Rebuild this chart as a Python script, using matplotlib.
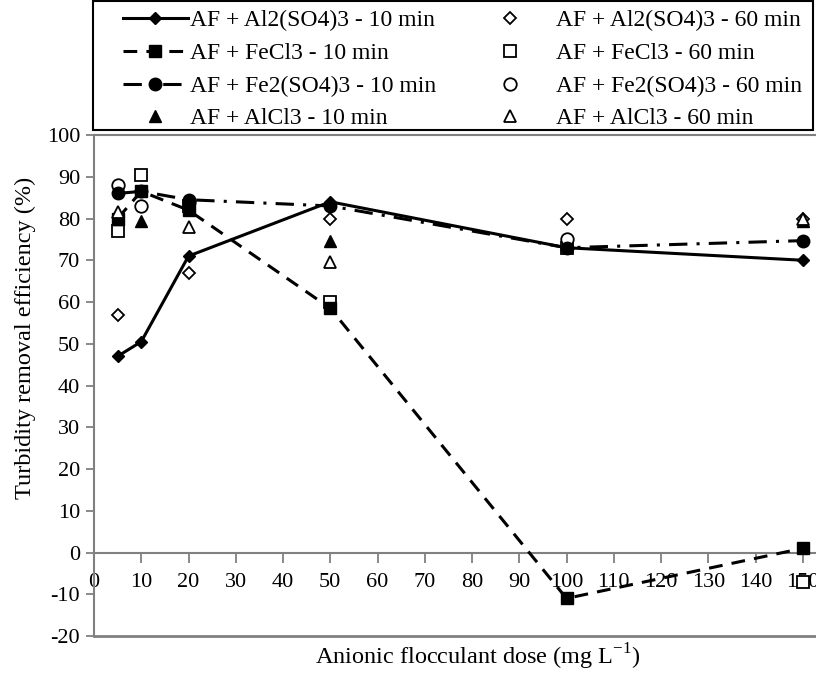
import numpy as np
import matplotlib
matplotlib.use('Agg')
import matplotlib.pyplot as plt
from matplotlib.patches import Rectangle

plt.rcParams['font.family'] = ['Liberation Serif', 'DejaVu Serif']
plt.rcParams['axes.unicode_minus'] = False
plt.rcParams['mathtext.fontset'] = 'custom'
plt.rcParams['mathtext.rm'] = 'Liberation Serif'

# doses (mg/L)
dose = [5, 10, 20, 50, 100, 150]

# 10 min series
al2so4_10 = [47, 50.5, 71, 84, 73, 70]
fecl3_10 = [80, 86.5, 82, 58.5, -11, 1]
fe2so4_10 = [86, 86.5, 84.5, 83, 73, 74.7]
alcl3_10 = [80, 79.5, np.nan, 74.5, np.nan, 79.5]

# 60 min series
al2so4_60 = [57, np.nan, 67, 80, 80, 80]
fecl3_60 = [77, 90.5, 83, 60, 73, -7]
fe2so4_60 = [88, 83, 84, np.nan, 75, np.nan]
alcl3_60 = [81.5, np.nan, 78, 69.5, np.nan, 80]

xticks = list(range(0, 151, 10))
yticks = list(range(-20, 101, 10))

fig = plt.figure(figsize=(8.16, 6.74), dpi=100)
# x axis runs a little past 150 (picture is cropped at the right)
ax = fig.add_axes([94/816, 1-636/674, 722/816, 501/674])

ms = 8
h1, = ax.plot(dose, al2so4_10, color='black', lw=2.2, marker='D', ms=6.5,
              label='AF + Al2(SO4)3 - 10 min', zorder=3)
h2, = ax.plot(dose, fecl3_10, color='black', lw=2.2, ls=(0, (4.5, 3)), marker='s', ms=ms,
              label='AF + FeCl3 - 10 min', zorder=3)
h3, = ax.plot(dose, fe2so4_10, color='black', lw=2.2, ls=(0, (6, 3, 1, 3)), marker='o', ms=ms+1,
              label='AF + Fe2(SO4)3 - 10 min', zorder=3)
h4, = ax.plot(dose, alcl3_10, color='black', lw=0, marker='^', ms=ms,
              label='AF + AlCl3 - 10 min', zorder=3)

h5, = ax.plot(dose, al2so4_60, color='black', lw=0, marker='D', ms=6.5, mfc='white',
              mew=1.3, label='AF + Al2(SO4)3 - 60 min', zorder=4)
h6, = ax.plot(dose, fecl3_60, color='black', lw=0, marker='s', ms=ms, mfc='white',
              mew=1.3, label='AF + FeCl3 - 60 min', zorder=2)
h7, = ax.plot(dose, fe2so4_60, color='black', lw=0, marker='o', ms=ms+1, mfc='white',
              mew=1.3, label='AF + Fe2(SO4)3 - 60 min', zorder=2)
h8, = ax.plot(dose, alcl3_60, color='black', lw=0, marker='^', ms=ms, mfc='white',
              mew=1.3, label='AF + AlCl3 - 60 min', zorder=4)

ax.set_xlim(0, 152.8)
ax.set_ylim(-20, 100)
ax.set_xticks(xticks)
ax.set_yticks(yticks)

gray = '#808080'
ax.spines['right'].set_visible(False)
ax.spines['top'].set_color(gray)
ax.spines['top'].set_linewidth(1.5)
ax.spines['left'].set_color(gray)
ax.spines['left'].set_linewidth(1.5)
ax.spines['bottom'].set_position(('data', 0))
ax.spines['bottom'].set_color(gray)
ax.spines['bottom'].set_linewidth(1.5)
ax.axhline(-20, color=gray, lw=2, clip_on=False, zorder=1)

ax.tick_params(axis='x', direction='out', length=7, width=1.3, color=gray,
               labelsize=16, pad=8)
ax.tick_params(axis='y', direction='out', length=6, width=1.3, color=gray,
               labelsize=16, pad=4)

fig.text(25/816, 1-338/674, 'Turbidity removal efficiency (%)', rotation=90,
         ha='center', va='center', fontsize=17.5)
fig.text(478/816, 1-657/674, 'Anionic flocculant dose (mg L$^{-1}$)',
         ha='center', va='center', fontsize=17.5)

# legend frame drawn separately, two columns as two legends
fig.patches.append(Rectangle((93/816, 1-130/674), 720/816, 129/674, fill=False,
                             edgecolor='black', lw=1.5, transform=fig.transFigure))
leg1 = fig.legend(handles=[h1, h2, h3, h4], loc='upper left',
                  bbox_to_anchor=(123/816, 1-10/674), frameon=False, fontsize=17,
                  handlelength=2.75, handletextpad=0.1, labelspacing=0.47,
                  borderaxespad=0, borderpad=0)
leg2 = fig.legend(handles=[h5, h6, h7, h8], loc='upper left',
                  bbox_to_anchor=(498/816, 1-10/674), frameon=False, fontsize=17,
                  handlelength=1.0, handletextpad=1.45, labelspacing=0.47,
                  borderaxespad=0, borderpad=0)

fig.savefig('out.png', dpi=100)
